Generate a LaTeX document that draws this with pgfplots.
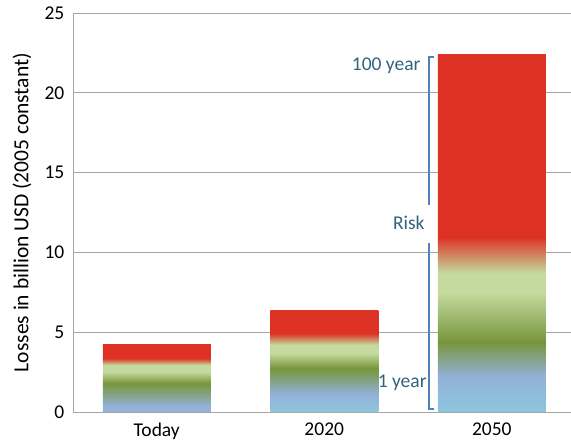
\documentclass[border=0pt]{standalone}
\usepackage{pgfplots}
\pgfplotsset{compat=1.18}
\usepackage{fontspec}
\setmainfont{Carlito}
\definecolor{cyanb}{HTML}{8CC7DB}
\definecolor{blueb}{HTML}{93B1DA}
\definecolor{dgreen}{HTML}{77963B}
\definecolor{lgreen}{HTML}{C4DA9E}
\definecolor{redb}{HTML}{DC3123}
\definecolor{brk}{HTML}{4F81BD}
\definecolor{txt}{HTML}{31637B}
\definecolor{gridc}{HTML}{A6A6A6}
\pgfdeclareverticalshading{sToday}{100bp}{color(0bp)=(blueb); color(28.93bp)=(blueb); color(46.43bp)=(dgreen); color(55bp)=(lgreen); color(60bp)=(lgreen); color(65bp)=(redb); color(100bp)=(redb)}
\pgfdeclareverticalshading{sTwenty}{100bp}{color(0bp)=(cyanb); color(25bp)=(cyanb); color(33.37bp)=(blueb); color(46.44bp)=(dgreen); color(53.8bp)=(lgreen); color(57.86bp)=(lgreen); color(63.58bp)=(redb); color(100bp)=(redb)}
\pgfdeclareverticalshading{sFifty}{100bp}{color(0bp)=(cyanb); color(25bp)=(cyanb); color(29.92bp)=(blueb); color(34.83bp)=(dgreen); color(41.76bp)=(lgreen); color(44.45bp)=(lgreen); color(49.54bp)=(redb); color(100bp)=(redb)}
\begin{document}
\fontsize{19.5}{23}\selectfont
\begin{tikzpicture}
\useasboundingbox (-73pt,-31pt) rectangle (498pt,412pt);
\begin{axis}[
  at={(0,0)}, anchor=south west,
  scale only axis, width=498pt, height=399pt,
  xmin=-0.5, xmax=2.473, ymin=0, ymax=25,
  xtick={0,1,2}, xticklabels={Today,2020,2050},
  ytick={0,5,10,15,20,25},
  axis x line*=bottom, axis y line*=left,
  axis line style={draw=gridc, line width=0.8pt},
  ymajorgrids, grid style={draw=gridc, line width=0.8pt},
  major tick length=0pt,
  tick style={draw=none},
  xticklabel style={yshift=-4pt},
  yticklabel style={xshift=-2pt},
  /pgf/number format/assume math mode=true,
  ylabel={Losses in billion USD (2005 constant)},
  every axis y label/.style={at={(axis description cs:-0.1024,0.5)}, rotate=90, anchor=center, font=\fontsize{21.5}{25}\selectfont},
  clip=false,
]
\addplot[ybar, bar width=108pt, bar shift=0pt, draw=none, shade, shading=sToday] coordinates {(0,4.2)};
\addplot[ybar, bar width=108pt, bar shift=0pt, draw=none, shade, shading=sTwenty] coordinates {(1,6.39)};
\addplot[ybar, bar width=108pt, bar shift=0pt, draw=none, shade, shading=sFifty] coordinates {(2,22.37)};
\draw[brk, line width=2pt] (axis cs:1.654,22.26) -- (axis cs:1.624,22.26) -- (axis cs:1.624,12.97);
\draw[brk, line width=2pt] (axis cs:1.624,10.6) -- (axis cs:1.624,0.19) -- (axis cs:1.654,0.19);
\node[anchor=east, inner sep=0pt, text=txt] at (axis cs:1.575,21.7) {100 year};
\node[anchor=east, inner sep=0pt, text=txt] at (axis cs:1.600,11.84) {Risk};
\node[anchor=east, inner sep=0pt, text=txt] at (axis cs:1.612,1.8) {1 year};
\end{axis}
\end{tikzpicture}
\end{document}
